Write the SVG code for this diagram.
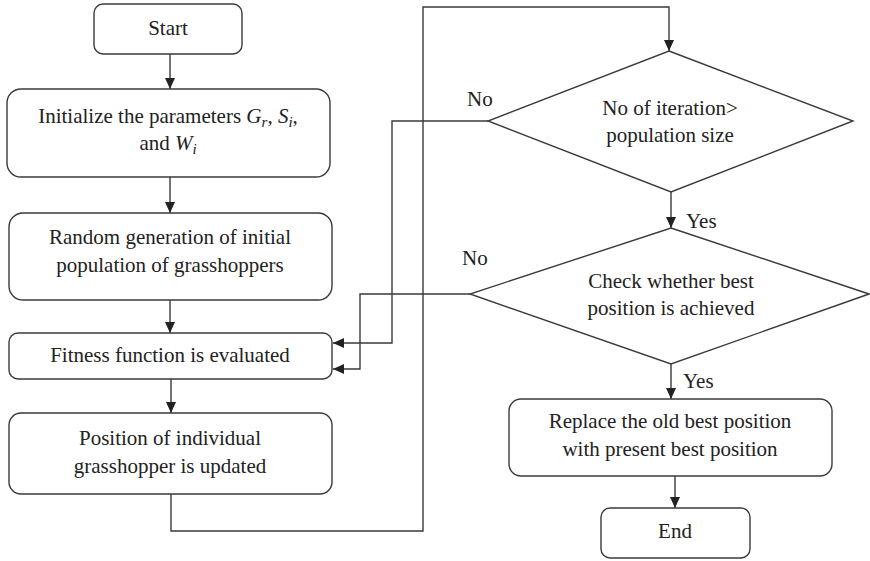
<svg xmlns="http://www.w3.org/2000/svg" width="870" height="561" viewBox="0 0 870 561">
  <style>
    .box { fill: #ffffff; stroke: #3a3a3a; stroke-width: 1.4; }
    .wire { fill: none; stroke: #3a3a3a; stroke-width: 1.4; }
    .t { font-family: 'Liberation Serif', 'Tinos', 'DejaVu Serif', serif; font-size: 21px; fill: #222222; }
    .c { text-anchor: middle; }
    .m { font-style: italic; }
    .sub { font-size: 15px; font-style: italic; }
  </style>
  <defs>
    <marker id="arrow" markerUnits="userSpaceOnUse" markerWidth="12" markerHeight="10" refX="11" refY="5" orient="auto">
      <path d="M0,0 L11,5 L0,10 Z" fill="#222222"/>
    </marker>
  </defs>
  <rect width="870" height="561" fill="#ffffff"/>

  <!-- connectors -->
  <g id="connectors">
    <line class="wire" x1="170" y1="54" x2="170" y2="89" marker-end="url(#arrow)"/>
    <line class="wire" x1="170" y1="177" x2="170" y2="213" marker-end="url(#arrow)"/>
    <line class="wire" x1="170" y1="300" x2="170" y2="333" marker-end="url(#arrow)"/>
    <line class="wire" x1="171" y1="379" x2="171" y2="413" marker-end="url(#arrow)"/>
    <path class="wire" d="M171,494 V531 H423 V7 H669 V51" marker-end="url(#arrow)"/>
    <line class="wire" x1="671" y1="192" x2="671" y2="228" marker-end="url(#arrow)"/>
    <path class="wire" d="M488,121 H392 V343 H333" marker-end="url(#arrow)"/>
    <path class="wire" d="M470,294 H360 V369 H333" marker-end="url(#arrow)"/>
    <line class="wire" x1="671" y1="364" x2="671" y2="399" marker-end="url(#arrow)"/>
    <line class="wire" x1="675" y1="476" x2="675" y2="508" marker-end="url(#arrow)"/>
    <text class="t" x="467" y="106" font-family="Liberation Serif">No</text>
    <text class="t" x="462" y="265">No</text>
    <text class="t" x="686" y="228">Yes</text>
    <text class="t" x="683" y="388">Yes</text>
  </g>

  <g id="start">
    <rect class="box" x="94" y="4" width="148" height="50" rx="9"/>
    <text class="t c" x="168" y="35">Start</text>
  </g>

  <g id="init">
    <rect class="box" x="7" y="89" width="323" height="88" rx="14"/>
    <text class="t c" x="168" y="123">Initialize the parameters <tspan class="m">G</tspan><tspan class="sub" dy="4">r</tspan><tspan dy="-4">, </tspan><tspan class="m">S</tspan><tspan class="sub" dy="4">i</tspan><tspan dy="-4">,</tspan></text>
    <text class="t c" x="168" y="150">and <tspan class="m">W</tspan><tspan class="sub" dy="4">i</tspan></text>
  </g>

  <g id="random">
    <rect class="box" x="9" y="213" width="323" height="87" rx="14"/>
    <text class="t c" x="170" y="244">Random generation of initial</text>
    <text class="t c" x="170" y="272">population of grasshoppers</text>
  </g>

  <g id="fitness">
    <rect class="box" x="9" y="333" width="323" height="46" rx="9"/>
    <text class="t c" x="170" y="362">Fitness function is evaluated</text>
  </g>

  <g id="position">
    <rect class="box" x="9" y="413" width="323" height="81" rx="12"/>
    <text class="t c" x="170" y="445">Position of individual</text>
    <text class="t c" x="170" y="473">grasshopper is updated</text>
  </g>

  <g id="iteration-check">
    <polygon class="box" points="669,51 853,121 671,192 488,121"/>
    <text class="t c" x="670" y="115">No of iteration&gt;</text>
    <text class="t c" x="670" y="142">population size</text>
  </g>

  <g id="best-check">
    <polygon class="box" points="671,228 869,294 671,364 470,294"/>
    <text class="t c" x="671" y="288">Check whether best</text>
    <text class="t c" x="671" y="315">position is achieved</text>
  </g>

  <g id="replace">
    <rect class="box" x="509" y="399" width="323" height="77" rx="12"/>
    <text class="t c" x="670" y="428">Replace the old best position</text>
    <text class="t c" x="670" y="456">with present best position</text>
  </g>

  <g id="end">
    <rect class="box" x="601" y="508" width="149" height="50" rx="9"/>
    <text class="t c" x="675" y="538">End</text>
  </g>
</svg>
